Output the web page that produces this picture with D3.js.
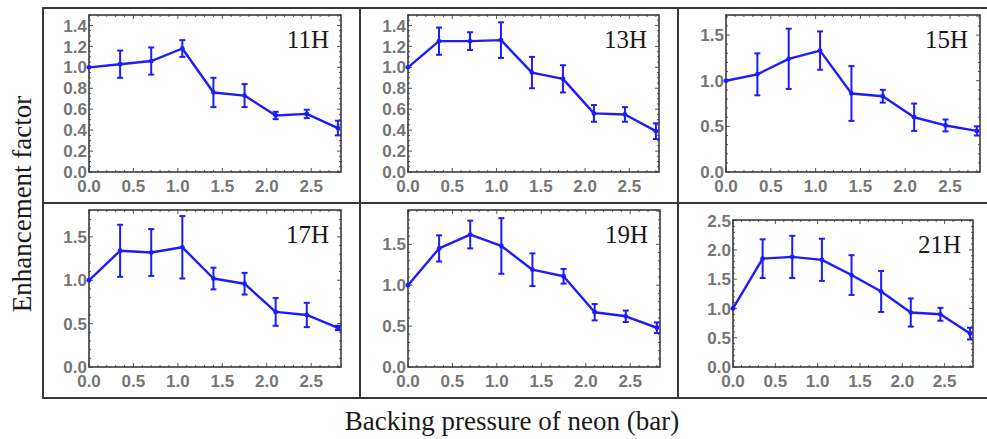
<!DOCTYPE html>
<html>
<head>
<meta charset="utf-8">
<script src="https://cdn.jsdelivr.net/npm/d3@7"></script>
<style>
  html, body { margin: 0; padding: 0; background: #fff; }
  svg { display: block; }
  .tick-label { font-family: 'Liberation Sans', Arial, sans-serif; font-weight: bold; font-size: 17px; fill: #767676; }
  .serif { font-family: 'Liberation Serif', 'Times New Roman', serif; fill: #1a1a1a; }
</style>
</head>
<body>
<svg id="chart"></svg>
<script>
// data
const pressure = [0, 0.35, 0.70, 1.05, 1.40, 1.75, 2.10, 2.45, 2.80];
const harmonicLabels = ['11H', '13H', '15H', '17H', '19H', '21H'];

const h11    = [1.00, 1.03, 1.06, 1.18, 0.76, 0.73, 0.54, 0.555, 0.42];
const h11Err = [0, 0.13, 0.13, 0.08, 0.14, 0.11, 0.035, 0.04, 0.07];
const h13    = [1.00, 1.25, 1.25, 1.26, 0.95, 0.89, 0.56, 0.55, 0.39];
const h13Err = [0, 0.13, 0.085, 0.17, 0.15, 0.13, 0.08, 0.07, 0.075];
const h15    = [1.00, 1.07, 1.24, 1.33, 0.86, 0.83, 0.60, 0.51, 0.45];
const h15Err = [0, 0.23, 0.33, 0.21, 0.30, 0.07, 0.15, 0.065, 0.05];
const h17    = [1.00, 1.34, 1.32, 1.38, 1.02, 0.96, 0.635, 0.60, 0.45];
const h17Err = [0, 0.30, 0.27, 0.36, 0.125, 0.125, 0.16, 0.14, 0.025];
const h19    = [1.00, 1.45, 1.62, 1.48, 1.19, 1.11, 0.67, 0.62, 0.48];
const h19Err = [0, 0.16, 0.17, 0.34, 0.20, 0.09, 0.10, 0.07, 0.065];
const h21    = [1.00, 1.85, 1.88, 1.83, 1.57, 1.29, 0.93, 0.90, 0.57];
const h21Err = [0, 0.33, 0.36, 0.36, 0.34, 0.35, 0.24, 0.11, 0.10];

// tick labels
const xTicks = [0, 0.5, 1.0, 1.5, 2.0, 2.5];
const yTicksFine = [0, 0.2, 0.4, 0.6, 0.8, 1.0, 1.2, 1.4];
const yTicksHalf = [0, 0.5, 1.0, 1.5];
const yTicksWide = [0, 0.5, 1.0, 1.5, 2.0, 2.5];

const xTitle = 'Backing pressure of neon (bar)';
const yTitle = 'Enhancement factor';

// layout
const W = 987, H = 439;
const blue = '#1c1cff';
const xMax = 2.835;

const panels = [
    { values: h11, errors: h11Err, yTicks: yTicksFine, yMinor: 0.05, yMax: 1.5,  box: [89, 341, 15, 172] },
    { values: h13, errors: h13Err, yTicks: yTicksFine, yMinor: 0.05, yMax: 1.5,  box: [408, 659, 15, 172] },
    { values: h15, errors: h15Err, yTicks: yTicksHalf, yMinor: 0.1,  yMax: 1.72, box: [726, 980, 15, 172] },
    { values: h17, errors: h17Err, yTicks: yTicksHalf, yMinor: 0.1,  yMax: 1.81, box: [89, 341, 210, 367] },
    { values: h19, errors: h19Err, yTicks: yTicksHalf, yMinor: 0.1,  yMax: 1.92, box: [408, 660, 210, 367] },
    { values: h21, errors: h21Err, yTicks: yTicksWide, yMinor: 0.1,  yMax: 2.51, box: [733, 973, 220, 367] }
];

const svg = d3.select('#chart')
    .attr('width', W)
    .attr('height', H);

// outer table grid
const grid = svg.append('g')
    .attr('stroke', '#383838')
    .attr('stroke-width', 2)
    .attr('fill', 'none');

[8, 203, 398].forEach(y => {
    grid.append('line').attr('x1', 42).attr('x2', W).attr('y1', y).attr('y2', y);
});
[43, 360, 678].forEach(x => {
    grid.append('line').attr('x1', x).attr('x2', x).attr('y1', 8).attr('y2', 398);
});

function range(start, stop, step)
{
    // minor tick positions
    const out = [];
    for (let v = start; v <= stop + 1e-9; v += step) out.push(+v.toFixed(4));
    return out;
}

panels.forEach((p, i) => {
    const [x0, x1, y0, y1] = p.box;

    const x = d3.scaleLinear().domain([0, xMax]).range([x0, x1]);
    const y = d3.scaleLinear().domain([0, p.yMax]).range([y1, y0]);

    const g = svg.append('g');

    // frame ticks (inward, all four sides)
    const ticksG = g.append('g').attr('stroke', '#555').attr('stroke-width', 1);
    const xMinor = range(0, xMax, 0.1);
    const yMinor = range(0, p.yMax, p.yMinor);

    xMinor.forEach(v => {
        const major = xTicks.some(t => Math.abs(t - v) < 1e-6);
        const len = major ? 4 : 2;
        ticksG.append('line').attr('x1', x(v)).attr('x2', x(v)).attr('y1', y1).attr('y2', y1 - len);
        ticksG.append('line').attr('x1', x(v)).attr('x2', x(v)).attr('y1', y0).attr('y2', y0 + len);
    });
    yMinor.forEach(v => {
        const major = p.yTicks.some(t => Math.abs(t - v) < 1e-6);
        const len = major ? 4 : 2;
        ticksG.append('line').attr('y1', y(v)).attr('y2', y(v)).attr('x1', x0).attr('x2', x0 + len);
        ticksG.append('line').attr('y1', y(v)).attr('y2', y(v)).attr('x1', x1).attr('x2', x1 - len);
    });

    // frame
    g.append('rect')
        .attr('x', x0).attr('y', y0)
        .attr('width', x1 - x0).attr('height', y1 - y0)
        .attr('fill', 'none')
        .attr('stroke', '#3a3a3a')
        .attr('stroke-width', 1.6);

    // tick labels
    g.selectAll('.xl')
        .data(xTicks)
        .join('text')
        .attr('class', 'tick-label')
        .attr('x', d => x(d))
        .attr('y', y1 + 20)
        .attr('text-anchor', 'middle')
        .text(d => d3.format('.1f')(d));

    g.selectAll('.yl')
        .data(p.yTicks)
        .join('text')
        .attr('class', 'tick-label')
        .attr('x', x0 - 2)
        .attr('y', d => y(d))
        .attr('dy', '0.36em')
        .attr('text-anchor', 'end')
        .text(d => d3.format('.1f')(d));

    const pts = pressure.map((px, k) => ({ x: px, v: p.values[k], e: p.errors[k] }));

    // error bars
    const eb = g.append('g').attr('stroke', blue).attr('stroke-width', 2);
    pts.filter(d => d.e > 0).forEach(d => {
        const cx = x(d.x);
        eb.append('line').attr('x1', cx).attr('x2', cx).attr('y1', y(d.v - d.e)).attr('y2', y(d.v + d.e));
        eb.append('line').attr('x1', cx - 3).attr('x2', cx + 3).attr('y1', y(d.v - d.e)).attr('y2', y(d.v - d.e));
        eb.append('line').attr('x1', cx - 3).attr('x2', cx + 3).attr('y1', y(d.v + d.e)).attr('y2', y(d.v + d.e));
    });

    // line
    g.append('path')
        .datum(pts)
        .attr('fill', 'none')
        .attr('stroke', blue)
        .attr('stroke-width', 2.4)
        .attr('stroke-linejoin', 'round')
        .attr('d', d3.line().x(d => x(d.x)).y(d => y(d.v)));

    g.selectAll('.dot')
        .data(pts)
        .join('circle')
        .attr('cx', d => x(d.x))
        .attr('cy', d => y(d.v))
        .attr('r', 2.4)
        .attr('fill', blue);

    // harmonic label
    g.append('text')
        .attr('class', 'serif')
        .attr('x', x1 - 12)
        .attr('y', y0 + 33)
        .attr('text-anchor', 'end')
        .style('font-size', '25px')
        .text(harmonicLabels[i]);
});

// axis titles
svg.append('text')
    .attr('class', 'serif')
    .attr('x', 512)
    .attr('y', 430)
    .attr('text-anchor', 'middle')
    .style('font-size', '27px')
    .text(xTitle);

svg.append('text')
    .attr('class', 'serif')
    .attr('transform', 'translate(31,204) rotate(-90)')
    .attr('text-anchor', 'middle')
    .style('font-size', '27px')
    .text(yTitle);
</script>
</body>
</html>
